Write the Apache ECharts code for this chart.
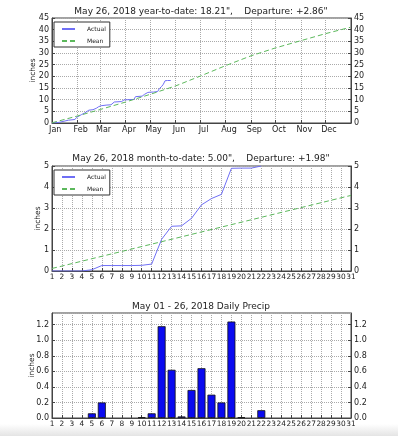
<!DOCTYPE html>
<html>
<head>
<meta charset="utf-8">
<script src="https://cdn.jsdelivr.net/npm/echarts@6/dist/echarts.min.js"></script>
<style>
  html, body { margin: 0; padding: 0; background: #fff; }
  #chart { width: 398px; height: 436px; }
</style>
</head>
<body>
<div id="chart"></div>
<script>
// year-to-date (day 0 = Jan 1)
const months = ['Jan', 'Feb', 'Mar', 'Apr', 'May', 'Jun', 'Jul', 'Aug', 'Sep', 'Oct', 'Nov', 'Dec'];
const monthStarts = [0, 31, 59, 90, 120, 151, 181, 212, 243, 273, 304, 334];
const ytdDays = [0, 1, 9, 10, 20, 28, 30, 33, 36, 40, 45, 50, 54, 57, 60, 67, 72, 74, 76, 85, 88, 100, 102, 110, 113, 117,
  120, 124, 125, 129, 130, 131, 132, 133, 134, 135, 136, 137, 138, 139, 141, 145];
const ytdActual = [0.0, 0.2, 0.3, 1.0, 1.2, 1.5, 2.4, 3.0, 3.6, 4.3, 5.5, 5.7, 6.3, 7.0, 7.4, 7.7, 7.8, 8.2, 9.0, 9.2, 9.9, 10.1, 11.3, 11.5, 12.3, 13.1,
  13.21, 13.27, 13.47, 13.48, 13.54, 14.72, 15.34, 15.36, 15.72, 16.36, 16.66, 16.86, 18.10, 18.11, 18.21, 18.21];
const ytdMeanDays = [0, 31, 59, 90, 120, 151, 181, 212, 243, 273, 304, 334, 364];
const ytdMean = [0.1, 3.0, 5.8, 9.0, 12.3, 15.9, 20.1, 24.6, 28.8, 32.2, 35.3, 38.3, 41.0];

// month-to-date
const mtdDays = [1, 2, 3, 4, 5, 6, 7, 8, 9, 10, 11, 12, 13, 14, 15, 16, 17, 18, 19, 20, 21, 22];
const mtdActual = [0, 0, 0, 0, 0.06, 0.26, 0.26, 0.26, 0.26, 0.27, 0.33, 1.51, 2.13, 2.15, 2.51, 3.15, 3.45, 3.65, 4.89, 4.90, 4.90, 5.00];
const mtdMeanDays = [1, 31];
const mtdMean = [0.12, 3.60];

// daily
const dailyDays = [1, 2, 3, 4, 5, 6, 7, 8, 9, 10, 11, 12, 13, 14, 15, 16, 17, 18, 19, 20, 21, 22, 23, 24, 25, 26];
const dailyPrecip = [0, 0, 0, 0, 0.06, 0.20, 0, 0, 0, 0.01, 0.06, 1.18, 0.62, 0.02, 0.36, 0.64, 0.30, 0.20, 1.24, 0.01, 0, 0.10, 0, 0, 0, 0];

const titles = [
  'May 26, 2018 year-to-date: 18.21",    Departure: +2.86"',
  'May 26, 2018 month-to-date: 5.00",    Departure: +1.98"',
  'May 01 - 26, 2018 Daily Precip'
];

const font = 'DejaVu Sans';
const frame = '#444';
const gridLine = { show: true, lineStyle: { type: 'dotted', color: '#aaa', width: 1 } };
const zip = (xs, ys) => xs.map((x, i) => [x, ys[i]]);

function yPair(gi, min, max, interval, nameGap, fmt) {
  const base = {
    type: 'value', gridIndex: gi, min: min, max: max, interval: interval,
    axisLine: { show: true, lineStyle: { color: frame } },
    axisTick: { show: true, inside: true, length: 3, lineStyle: { color: frame } },
    axisLabel: { fontSize: 8, color: '#222', fontFamily: font, margin: 3, showMinLabel: true, showMaxLabel: max % interval === 0, formatter: fmt }
  };
  return [
    Object.assign({}, base, {
      position: 'left', name: 'inches', nameLocation: 'middle', nameGap: nameGap, nameMoveOverlap: false,
      nameTextStyle: { fontSize: 7.5, color: '#222', fontFamily: font },
      splitLine: gridLine
    }),
    Object.assign({}, base, { position: 'right', splitLine: { show: false } })
  ];
}

function dayAxis(gi) {
  return {
    type: 'value', gridIndex: gi, min: 1, max: 31, interval: 1,
    axisLine: { show: true, lineStyle: { color: frame } },
    axisTick: { show: true, inside: true, length: 3, lineStyle: { color: frame } },
    axisLabel: { fontSize: 7.4, color: '#222', fontFamily: font, margin: 3, showMinLabel: true, showMaxLabel: true, hideOverlap: false },
    splitLine: gridLine
  };
}

function legendAt(top) {
  return {
    orient: 'vertical', left: 54, top: top,
    data: ['Actual', 'Mean'],
    itemWidth: 13, itemHeight: 6, itemGap: 6,
    padding: [4, 4, 3, 7],
    itemStyle: { opacity: 0 },
    backgroundColor: '#fff', borderColor: '#333', borderWidth: 1, borderRadius: 0,
    textStyle: { fontSize: 6, color: '#222', fontFamily: font, padding: [0, 0, 0, 7] }
  };
}

const actualStyle = { color: '#6f6ff5', width: 1 };
const meanStyle = { color: '#5cb85c', width: 1, type: [5, 3] };

const chart = echarts.init(document.getElementById('chart'));
chart.setOption({
  animation: false,
  backgroundColor: '#fff',
  textStyle: { fontFamily: font },
  title: titles.map((t, i) => ({
    text: t, left: 201, top: [7, 154, 302][i], textAlign: 'center', padding: 0,
    textStyle: { fontSize: 9, fontWeight: 'normal', color: '#222', fontFamily: font }
  })),
  legend: [legendAt(22), legendAt(170)],
  grid: [
    { left: 52, right: 47, top: 18, height: 105, show: true, borderColor: frame, borderWidth: 1 },
    { left: 52, right: 47, top: 166, height: 105, show: true, borderColor: frame, borderWidth: 1 },
    { left: 52, right: 47, top: 313, height: 105, show: true, borderColor: frame, borderWidth: 1 }
  ],
  graphic: [{
    type: 'rect', left: 0, top: 424, z: -10, silent: true,
    shape: { width: 398, height: 12 },
    style: { fill: new echarts.graphic.LinearGradient(0, 0, 0, 1, [{ offset: 0, color: '#ffffff' }, { offset: 1, color: '#e4e4e4' }]) }
  }],
  xAxis: [
    {
      type: 'value', gridIndex: 0, min: 0, max: 365,
      axisLine: { show: true, lineStyle: { color: frame } },
      axisTick: { show: true, inside: true, length: 3, customValues: monthStarts, lineStyle: { color: frame } },
      axisLabel: {
        fontSize: 8, color: '#222', fontFamily: font, margin: 3,
        customValues: monthStarts.map(d => d + 4),
        formatter: v => months[monthStarts.indexOf(v - 4)] || ''
      },
      splitLine: gridLine
    },
    dayAxis(1),
    dayAxis(2)
  ],
  yAxis: [].concat(
    yPair(0, 0, 45, 5, 15),
    yPair(1, 0, 5, 1, 10),
    yPair(2, 0, 1.35, 0.2, 16, v => v.toFixed(1))
  ),
  series: [
    { name: 'Actual', type: 'line', xAxisIndex: 0, yAxisIndex: 0, symbol: 'none', lineStyle: actualStyle, itemStyle: { color: actualStyle.color }, data: zip(ytdDays, ytdActual) },
    { name: 'Mean', type: 'line', xAxisIndex: 0, yAxisIndex: 0, symbol: 'none', lineStyle: meanStyle, itemStyle: { color: meanStyle.color }, data: zip(ytdMeanDays, ytdMean) },
    { name: 'Actual', type: 'line', xAxisIndex: 1, yAxisIndex: 2, symbol: 'none', lineStyle: actualStyle, itemStyle: { color: actualStyle.color }, data: zip(mtdDays, mtdActual) },
    { name: 'Mean', type: 'line', xAxisIndex: 1, yAxisIndex: 2, symbol: 'none', lineStyle: meanStyle, itemStyle: { color: meanStyle.color }, data: zip(mtdMeanDays, mtdMean) },
    {
      name: 'Daily', type: 'bar', xAxisIndex: 2, yAxisIndex: 4, barWidth: 8,
      itemStyle: { color: '#0a0af0', borderColor: '#111', borderWidth: 0.8 },
      // dry days have no bar
      data: zip(dailyDays, dailyPrecip).filter(p => p[1] > 0)
    }
  ]
});
</script>
</body>
</html>
